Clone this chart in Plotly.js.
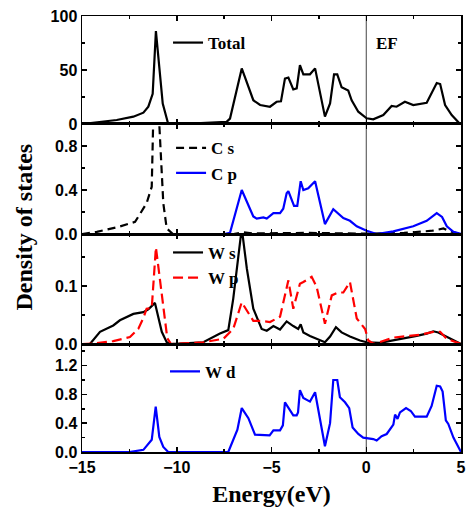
<!DOCTYPE html>
<html>
<head>
<meta charset="utf-8">
<script src="https://cdn.plot.ly/plotly-3.0.1.min.js"></script>
<style>html,body{margin:0;padding:0;background:#fff;}#chart{width:469px;height:515px;}</style>
</head>
<body>
<div id="chart"></div>
<script>
// ---- Data ----
var totalE = [-15, -14.05, -13.17, -12.29, -11.76, -11.5, -11.27, -11.1, -10.92, -10.74, -10.45, -9, -7.37, -7.19, -6.57, -5.96, -5.6, -5.08, -4.73, -4.5, -4.29, -4.11, -3.85, -3.67, -3.5, -3.32, -2.97, -2.7, -2.18, -1.91, -1.7, -1.53, -1.3, -0.95, -0.77, -0.42, 0.02, 0.37, 0.9, 1.34, 1.6, 2.04, 2.48, 3.19, 3.72, 3.9, 4.16, 4.51, 4.95];
var totalV = [0, 2, 3.7, 6.8, 10.5, 16, 28, 86, 53, 19, 0, 0.5, 2, 5, 51.5, 22, 17.6, 16, 20.6, 21, 42, 43, 32, 33, 54.6, 46, 46, 51.5, 6.8, 19, 46, 46, 34, 31, 22, 11.4, 5.3, 4.3, 8.3, 16.7, 16, 20.6, 17.6, 19.7, 38, 37, 17.6, 8.3, 0];

var csE = [-15, -14.22, -13.17, -12.2, -11.59, -11.32, -11.22, -11.1, -10.98, -10.71, -10.53, -10.2, -7, -6.5, -6, -3, 0, 2, 3.5, 4.07, 4.5, 5];
var csV = [0, 0.02, 0.06, 0.11, 0.28, 0.43, 1.2, 1.4, 1.2, 0.28, 0.05, 0, 0, 0.015, 0.005, 0.01, 0.003, 0.01, 0.03, 0.05, 0.02, 0];

var cpE = [-15, -11.1, -10.5, -7.5, -7.19, -6.57, -5.96, -5.78, -5.43, -5.25, -4.9, -4.55, -4.38, -4.2, -4.11, -3.81, -3.64, -3.46, -3.32, -3.06, -2.7, -2.18, -1.74, -1.21, -0.86, -0.5, 0.02, 0.55, 1.43, 2.48, 3.19, 3.72, 4.0, 4.25, 4.6, 5];
var cpV = [0, 0.005, 0, 0, 0.01, 0.40, 0.16, 0.14, 0.15, 0.14, 0.19, 0.19, 0.23, 0.37, 0.39, 0.255, 0.255, 0.48, 0.40, 0.415, 0.48, 0.09, 0.225, 0.145, 0.12, 0.07, 0.03, 0.0, 0.024, 0.07, 0.12, 0.19, 0.155, 0.07, 0.02, 0];

var wsE = [-15, -14.58, -14.05, -13.35, -13.0, -12.29, -11.76, -11.5, -11.15, -10.79, -10.53, -10.35, -8.6, -7.72, -7.28, -7.02, -6.57, -6.3, -5.96, -5.52, -5.25, -4.9, -4.55, -4.2, -3.85, -3.59, -3.46, -3.32, -2.97, -2.44, -2.18, -1.91, -1.6, -1.3, -0.86, -0.33, 0.02, 0.72, 1.78, 2.66, 3.19, 3.54, 3.8, 4.25, 4.77, 5];
var wsV = [0, 0, 0.021, 0.032, 0.041, 0.052, 0.055, 0.06, 0.071, 0.021, 0.003, 0, 0.003, 0.018, 0.024, 0.078, 0.2, 0.13, 0.061, 0.026, 0.023, 0.031, 0.025, 0.039, 0.031, 0.026, 0.034, 0.02, 0.014, 0.007, 0.003, 0.013, 0.029, 0.02, 0.013, 0.006, 0.003, 0.002, 0.008, 0.014, 0.018, 0.022, 0.02, 0.012, 0.003, 0];

var wpE = [-15, -14.4, -13.35, -12.47, -12.03, -11.76, -11.59, -11.32, -11.1, -10.8, -10.5, -10.3, -8.6, -7.54, -7.02, -6.57, -5.96, -5.52, -5.08, -4.55, -4.11, -3.85, -3.5, -3.32, -2.88, -2.62, -2.18, -1.82, -1.47, -1.21, -0.86, -0.5, -0.06, 0.11, 0.4, 1.43, 2.13, 2.83, 3.54, 3.9, 4.25, 4.78, 5];
var wpV = [0, 0.001, 0.005, 0.012, 0.026, 0.045, 0.061, 0.062, 0.167, 0.09, 0.01, 0, 0.003, 0.009, 0.026, 0.072, 0.04, 0.04, 0.038, 0.047, 0.11, 0.061, 0.104, 0.107, 0.116, 0.099, 0.035, 0.084, 0.089, 0.089, 0.107, 0.044, 0.026, 0.006, 0, 0.011, 0.014, 0.016, 0.021, 0.021, 0.009, 0.002, 0];

var wdE = [-15, -12.5, -11.76, -11.32, -11.11, -10.92, -10.71, -10.45, -7.28, -7.02, -6.8, -6.57, -6.22, -5.87, -5.1, -4.9, -4.55, -4.4, -4.29, -3.85, -3.67, -3.6, -3.5, -3.32, -2.97, -2.7, -2.18, -1.91, -1.74, -1.53, -1.39, -1.12, -0.9, -0.72, -0.42, -0.16, 0.37, 0.55, 0.81, 1.08, 1.43, 1.52, 1.65, 1.78, 2.1, 2.35, 2.57, 2.8, 3.19, 3.45, 3.72, 3.9, 4.03, 4.2, 4.33, 4.6, 5];
var wdV = [0, 0, 0.03, 0.17, 0.63, 0.21, 0.07, 0, 0, 0.17, 0.31, 0.61, 0.47, 0.24, 0.23, 0.3, 0.3, 0.37, 0.69, 0.51, 0.51, 0.55, 0.86, 0.75, 0.70, 0.83, 0.08, 0.4, 1.0, 1.0, 0.76, 0.69, 0.61, 0.34, 0.25, 0.2, 0.18, 0.16, 0.22, 0.25, 0.38, 0.52, 0.46, 0.55, 0.61, 0.57, 0.49, 0.49, 0.49, 0.64, 0.92, 0.91, 0.84, 0.44, 0.39, 0.2, 0];

var xTickVals = [-15, -10, -5, 0, 5];
var seriesNames = ['Total', 'C s', 'C p', 'W s', 'W p', 'W d'];

// ---- Chart ----
var LW = 2.2;
var traces = [
  {x: totalE, y: totalV, name: seriesNames[0], xaxis: 'x', yaxis: 'y', legend: 'legend', line: {color: '#000', width: LW}},
  {x: csE, y: csV, name: seriesNames[1], xaxis: 'x2', yaxis: 'y2', legend: 'legend2', line: {color: '#000', width: LW, dash: '8px,5px'}},
  {x: cpE, y: cpV, name: seriesNames[2], xaxis: 'x2', yaxis: 'y2', legend: 'legend2', line: {color: '#0000ff', width: LW}},
  {x: wsE, y: wsV, name: seriesNames[3], xaxis: 'x3', yaxis: 'y3', legend: 'legend3', line: {color: '#000', width: LW}},
  {x: wpE, y: wpV, name: seriesNames[4], xaxis: 'x3', yaxis: 'y3', legend: 'legend3', line: {color: '#ff0000', width: LW, dash: '10px,5px'}},
  {x: wdE, y: wdV, name: seriesNames[5], xaxis: 'x4', yaxis: 'y4', legend: 'legend4', line: {color: '#0000ff', width: LW}}
];
traces.forEach(function(t){ t.type = 'scatter'; t.mode = 'lines'; });

var tickFont = {family: 'Liberation Sans, Arial, sans-serif', size: 16, color: '#000', weight: 700};
var serifBold = {family: 'Liberation Serif, Times New Roman, serif', color: '#000', weight: 700};

function xAx(anchor, showLabels) {
  var a = {
    anchor: anchor, range: [-15, 5], tickvals: xTickVals, showticklabels: showLabels,
    ticks: 'inside', ticklen: 5, tickwidth: 1.5, tickcolor: '#000',
    minor: {ticks: 'inside', ticklen: 3, tickwidth: 1.5, dtick: 2.5, tick0: 0, tickcolor: '#000'},
    showline: true, linecolor: '#000', linewidth: 1.5, mirror: 'ticks',
    showgrid: false, zeroline: false, tickfont: tickFont, fixedrange: true
  };
  if (anchor !== 'y') a.matches = 'x';
  return a;
}
function yAx(domain, range, dtick, minorDtick, fmt) {
  return {
    domain: domain, range: range, dtick: dtick, tick0: 0, tickformat: fmt,
    ticks: 'inside', ticklen: 5, tickwidth: 1.5, tickcolor: '#000',
    minor: {ticks: 'inside', ticklen: 3, tickwidth: 1.5, dtick: minorDtick, tick0: 0, tickcolor: '#000'},
    showline: true, linecolor: '#000', linewidth: 1.5, mirror: 'ticks',
    showgrid: false, zeroline: false, tickfont: tickFont, fixedrange: true
  };
}

var legendBase = function(x, y) {
  return {x: x, y: y, xanchor: 'left', yanchor: 'middle', bgcolor: 'rgba(0,0,0,0)',
          borderwidth: 0, font: Object.assign({size: 17}, serifBold), tracegroupgap: 0};
};

var xaxis4 = xAx('y4', true);
xaxis4.title = {text: 'Energy(eV)', font: Object.assign({size: 24}, serifBold), standoff: 10};

var layout = {
  width: 469, height: 515,
  margin: {l: 82, r: 8, t: 16, b: 63},
  paper_bgcolor: '#fff', plot_bgcolor: '#fff',
  showlegend: true,
  xaxis: xAx('y', false),
  xaxis2: xAx('y2', false),
  xaxis3: xAx('y3', false),
  xaxis4: xaxis4,
  yaxis: yAx([0.7523, 1], [0, 100], 50, 25, 'd'),
  yaxis2: yAx([0.5, 0.7523], [0, 1.0], 0.4, 0.2, '.1f'),
  yaxis3: yAx([0.2477, 0.5], [0, 0.19], 0.1, 0.05, '.1f'),
  yaxis4: yAx([0, 0.2477], [0, 1.5], 0.4, 0.2, '.1f'),
  legend: legendBase(0.227, 0.938),
  legend2: legendBase(0.235, 0.668),
  legend3: legendBase(0.227, 0.428),
  legend4: legendBase(0.219, 0.184),
  shapes: [
    {type: 'line', xref: 'x', yref: 'paper', x0: 0, x1: 0, y0: 0, y1: 1, line: {color: '#444', width: 1}, layer: 'below'}
  ],
  annotations: [
    {text: 'EF', xref: 'x', yref: 'paper', x: 1.07, y: 0.938, xanchor: 'center', yanchor: 'middle', showarrow: false, font: Object.assign({size: 17}, serifBold)},
    {text: 'Density of states', xref: 'paper', yref: 'paper', x: -0.153, y: 0.515, xanchor: 'center', yanchor: 'middle', textangle: -90, showarrow: false, font: Object.assign({size: 24}, serifBold)}
  ]
};

Plotly.newPlot('chart', traces, layout, {staticPlot: true, displayModeBar: false});
</script>
</body>
</html>
